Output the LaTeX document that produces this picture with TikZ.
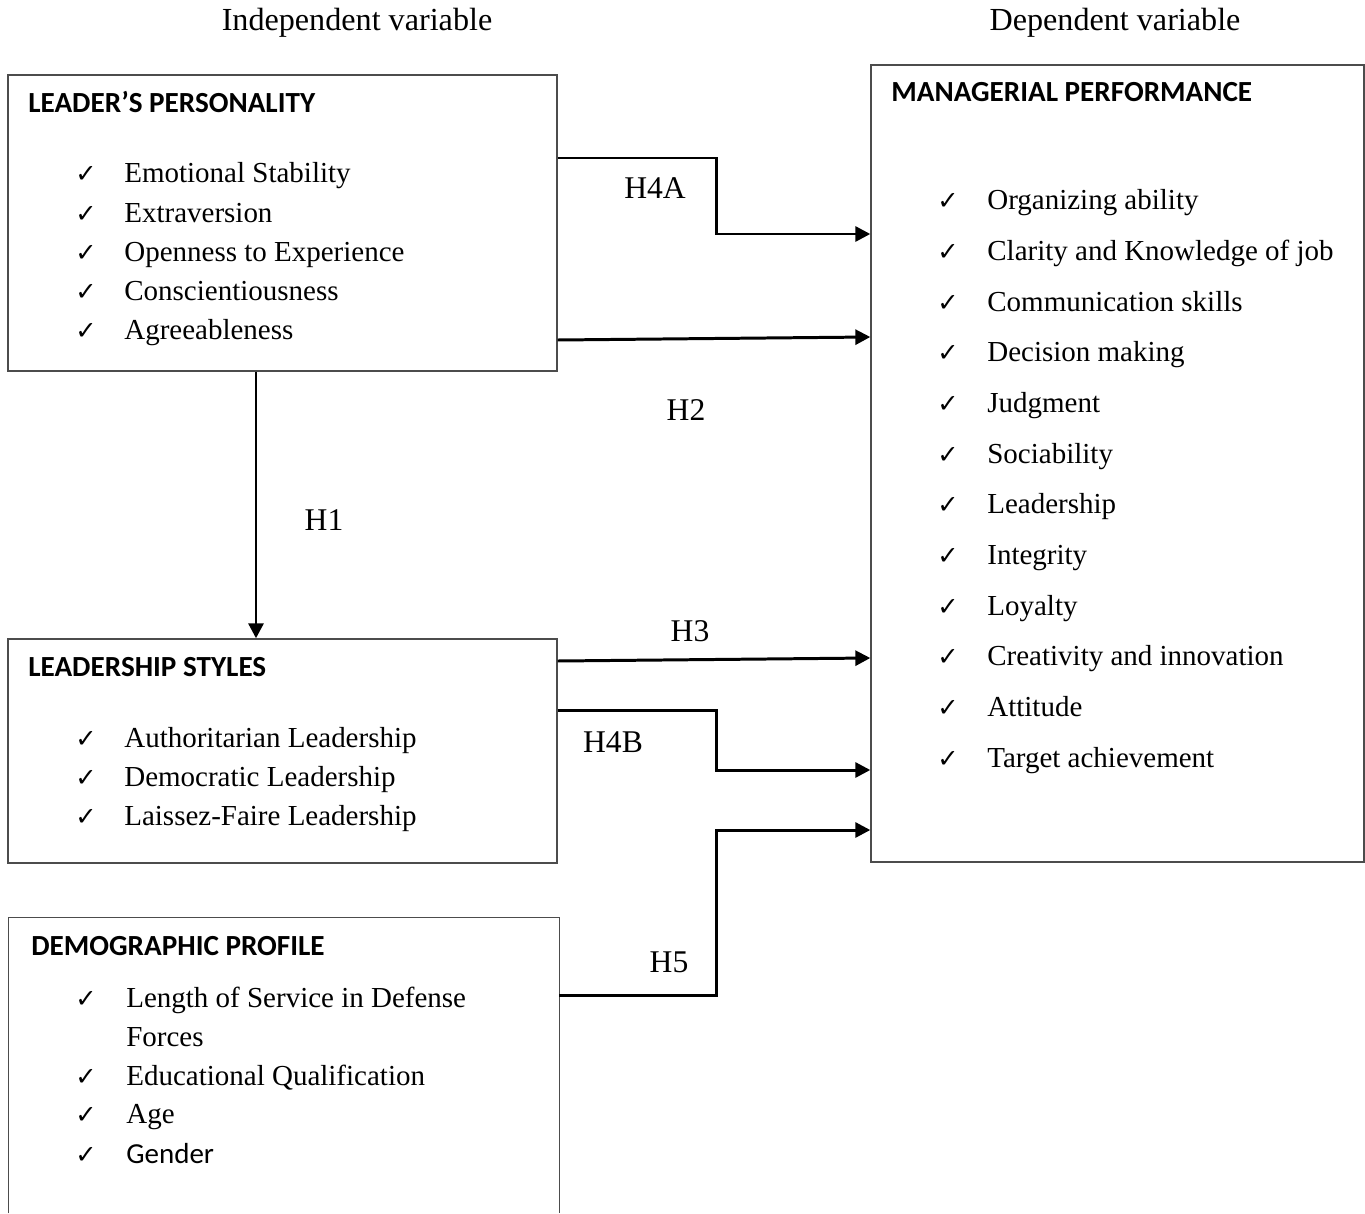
\documentclass[tikz,border=0pt]{standalone}
\usepackage{fontspec}
\setmainfont{Liberation Serif}
\newfontfamily\headfont{Carlito}
\newfontfamily\tickfont{DejaVu Sans}
\usetikzlibrary{arrows.meta,positioning,fit,calc}
\tikzset{
  % boxes
  frame/.style={draw=black!70,line width=0.8pt,inner sep=0pt},
  framelines/.style={draw=black!70,line width=0.8pt},
  % texts
  head/.style={font=\headfont\bfseries\fontsize{16.6}{19}\selectfont,anchor=base west,inner sep=0pt},
  item/.style={font=\fontsize{16.5}{20}\selectfont,anchor=base west,inner sep=0pt},
  tick/.style={font=\tickfont\fontsize{14.5}{17}\selectfont,anchor=base,inner sep=0pt},
  hyp/.style={font=\fontsize{18}{22}\selectfont,anchor=base,inner sep=0pt},
  coltitle/.style={font=\fontsize{18.3}{22}\selectfont,anchor=base,inner sep=0pt},
  % hypothesis arrows
  link/.style={line width=1.7pt,-{Triangle[length=8.5pt,width=8.5pt]}},
}

\begin{document}
\begin{tikzpicture}[x=0.02cm,y=-0.02cm]
\useasboundingbox (0,0) rectangle (1365,1213);
% column titles
\node[coltitle] (indep) at (357,31) {Independent variable};
\node[coltitle] (dep) at (1115,31) {Dependent variable};
% boxes
\node[frame,fit={(8,75) (557,371)}] (pers) {};
\node[frame,fit={(8,639) (557,863)}] (styles) {};
\node[inner sep=0pt,fit={(9,918) (559,1213)}] (demo) {};
\draw[framelines] (demo.south west) -- (demo.north west) -- (demo.north east) -- (demo.south east);
\node[frame,fit={(871,65) (1364,862)}] (perf) {};
% headings
\node[head] (persT) at (28,113) {LEADER’S PERSONALITY};
\node[head] (stylesT) at (28,676) {LEADERSHIP STYLES};
\node[head] (demoT) at (31,955) {DEMOGRAPHIC PROFILE};
\node[head] (perfT) at (891,102) {MANAGERIAL PERFORMANCE};
% leader's personality
\foreach \t [count=\i] in {Emotional Stability,Extraversion,Openness to Experience,Conscientiousness,Agreeableness}{
  \node[tick] (pc\i) at (86,{183+39*(\i-1)}) {✓};
  \node[item] (p\i) at (124,{183+39*(\i-1)}) {\t};
}
% leadership styles
\foreach \t [count=\i] in {Authoritarian Leadership,Democratic Leadership,Laissez-Faire Leadership}{
  \node[tick] (sc\i) at (86,{747+39*(\i-1)}) {✓};
  \node[item] (s\i) at (124,{747+39*(\i-1)}) {\t};
}
% demographic profile
\node[tick] (dc1) at (86,1007) {✓};
\node[item] (d1) at (126,1007) {Length of Service in Defense};
\node[item] (d1b) at (126,1046) {Forces};
\node[tick] (dc2) at (86,1085) {✓};
\node[item] (d2) at (126,1085) {Educational Qualification};
\node[tick] (dc3) at (86,1123) {✓};
\node[item] (d3) at (126,1123) {Age};
\node[tick] (dc4) at (86,1163) {✓};
\node[item,font=\headfont\fontsize{16.5}{20}\selectfont] (d4) at (126,1163) {Gender};
% managerial performance
\foreach \t [count=\i] in {Organizing ability,Clarity and Knowledge of job,Communication skills,Decision making,Judgment,Sociability,Leadership,Integrity,Loyalty,Creativity and innovation,Attitude,Target achievement}{
  \node[tick] (mc\i) at (948,{210+50.64*(\i-1)}) {✓};
  \node[item] (m\i) at (987,{210+50.64*(\i-1)}) {\t};
}
% hypotheses
\draw[link] (pers.east |- 0,158) -| (716,196) |- (perf.west |- 0,234);
\draw[link] (pers.east |- 0,340) -- (perf.west |- 0,337);
\draw[link] (pers.south -| 256,0) -- (styles.north -| 256,0);
\draw[link] (styles.east |- 0,661) -- (perf.west |- 0,658);
\draw[link] (styles.east |- 0,710) -| (716,740) |- (perf.west |- 0,770);
\draw[link] (demo.east |- 0,995) -| (716,900) |- (perf.west |- 0,830);
\node[hyp] (h4a) at (655,198) {H4A};
\node[hyp] (h2) at (686,420) {H2};
\node[hyp] (h1) at (324,530) {H1};
\node[hyp] (h3) at (690,641) {H3};
\node[hyp] (h4b) at (613,752) {H4B};
\node[hyp] (h5) at (669,972) {H5};
\end{tikzpicture}
\end{document}
